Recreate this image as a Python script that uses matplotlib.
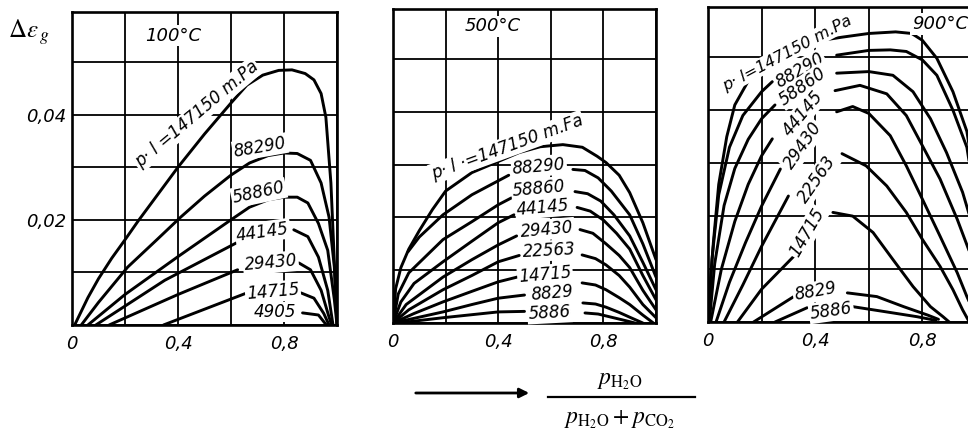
import matplotlib.pyplot as plt
import numpy as np
from matplotlib.patches import FancyArrowPatch
from matplotlib.lines import Line2D

nan = np.nan

# p*l values (m.Pa) of the curves, top to bottom
pl_100 = ['147150', '88290', '58860', '44145', '29430', '14715', '4905']
pl_500 = ['147150', '88290', '58860', '44145', '29430', '22563', '14715', '8829', '5886']
pl_900 = ['147150', '88290', '58860', '44145', '29430', '22563', '14715', '8829', '5886']

# 100 C  (nan = gap where the curve label sits)
x_100 = [
    [0.01, 0.06, 0.1, 0.15, 0.2, 0.25, 0.3, 0.4, 0.5, 0.6, 0.66, 0.72, 0.78, 0.83, 0.88, 0.913, 0.94, 0.958, 0.977, 0.99, 1.0],
    [0.035, 0.1, 0.21, 0.32, 0.41, 0.5, 0.6, 0.67, 0.74, 0.8, 0.85, 0.9, 0.94, 0.97, 0.99, 1.0],
    [0.06, 0.2, 0.4, 0.6, 0.67, 0.74, 0.8, 0.85, 0.89, 0.93, 0.965, 0.99, 1.0],
    [0.09, 0.35, 0.62, nan, 0.837, 0.89, 0.93, 0.965, 0.985],
    [0.14, 0.4, 0.625, nan, 0.856, 0.9, 0.94, 0.97, 0.98],
    [0.345, 0.66, nan, 0.864, 0.913, 0.95, 0.97],
    [0.87, 0.93, 0.96],
]
y_100 = [
    [0, 0.0052, 0.0088, 0.0127, 0.0162, 0.0198, 0.0232, 0.030, 0.0363, 0.0422, 0.0456, 0.0475, 0.0484, 0.0485, 0.0478, 0.0466, 0.0440, 0.0395, 0.027, 0.012, 0],
    [0, 0.0043, 0.011, 0.0162, 0.0205, 0.0245, 0.0285, 0.0308, 0.0322, 0.0327, 0.0326, 0.0313, 0.027, 0.0205, 0.011, 0],
    [0, 0.0058, 0.013, 0.020, 0.0224, 0.0238, 0.0243, 0.0243, 0.0232, 0.0193, 0.0142, 0.0048, 0],
    [0, 0.0085, 0.0156, nan, 0.0181, 0.0168, 0.0129, 0.0066, 0],
    [0, 0.0058, 0.0105, nan, 0.0118, 0.0105, 0.0066, 0.0015, 0],
    [0, 0.0061, nan, 0.0061, 0.0051, 0.0022, 0],
    [0.0023, 0.0019, 0],
]

# 500 C
x_500 = [
    [0, 0.01, 0.03, 0.06, 0.1, 0.15, 0.2, 0.3, 0.4, 0.48, 0.56, 0.646, 0.72, 0.776, 0.81, 0.86, 0.9, 0.95, 1.0],
    [0.057, 0.1, 0.19, 0.3, 0.44, nan, 0.684, 0.73, 0.78, 0.83, 0.9, 0.95, 1.0],
    [0, 0.02, 0.06, 0.19, 0.3, 0.4, 0.45, nan, 0.692, 0.74, 0.79, 0.84, 0.9, 0.95, 1.0],
    [0, 0.03, 0.08, 0.19, 0.3, 0.4, 0.46, nan, 0.70, 0.75, 0.8, 0.85, 0.9, 0.95, 1.0],
    [0, 0.05, 0.19, 0.3, 0.4, 0.47, nan, 0.711, 0.76, 0.81, 0.86, 0.9, 0.95, 1.0],
    [0, 0.06, 0.19, 0.3, 0.4, 0.48, nan, 0.719, 0.77, 0.81, 0.86, 0.9, 0.95, 1.0],
    [0, 0.08, 0.19, 0.3, 0.4, 0.48, nan, 0.719, 0.77, 0.81, 0.86, 0.9, 0.95, 0.99],
    [0, 0.19, 0.3, 0.4, 0.5, nan, 0.722, 0.77, 0.81, 0.86, 0.9, 0.95],
    [0.02, 0.19, 0.4, 0.5, nan, 0.73, 0.78, 0.83, 0.88, 0.92],
]
y_500 = [
    [0, 0.0065, 0.0105, 0.014, 0.0175, 0.0215, 0.025, 0.0285, 0.0306, 0.0323, 0.0334, 0.0338, 0.0333, 0.0316, 0.0304, 0.028, 0.0247, 0.019, 0.012],
    [0.0135, 0.0163, 0.0205, 0.0243, 0.028, nan, 0.0291, 0.0289, 0.0275, 0.025, 0.0205, 0.015, 0.0087],
    [0, 0.0055, 0.0095, 0.0158, 0.0192, 0.0224, 0.0237, nan, 0.0249, 0.0245, 0.0231, 0.0205, 0.0165, 0.0115, 0.0063],
    [0, 0.004, 0.0075, 0.0116, 0.0155, 0.019, 0.0205, nan, 0.0219, 0.0212, 0.0195, 0.017, 0.014, 0.009, 0.0044],
    [0, 0.0035, 0.0087, 0.012, 0.0148, 0.0165, nan, 0.0177, 0.017, 0.015, 0.0128, 0.0105, 0.0062, 0.0025],
    [0, 0.0025, 0.0063, 0.009, 0.0116, 0.0128, nan, 0.0129, 0.0122, 0.011, 0.009, 0.0068, 0.0035, 0.001],
    [0, 0.0018, 0.004, 0.006, 0.0078, 0.0088, nan, 0.0076, 0.0072, 0.0063, 0.0048, 0.0035, 0.0015, 0],
    [0, 0.0021, 0.0035, 0.0047, 0.0053, nan, 0.0038, 0.0036, 0.003, 0.002, 0.0011, 0],
    [0, 0.001, 0.0021, 0.0022, nan, 0.0019, 0.0017, 0.0011, 0.0005, 0],
]

# 900 C
x_900 = [
    [0, 0.01, 0.02, 0.04, 0.07, 0.1, 0.15, 0.2, 0.3, 0.4, 0.5, 0.6, 0.7, 0.76, 0.8, 0.854, 0.914, 0.966, 1.0],
    [0, 0.015, 0.04, 0.08, 0.13, 0.2, 0.24, nan, 0.48, 0.6, 0.68, 0.74, 0.8, 0.854, 0.914, 0.966, 1.0],
    [0.005, 0.025, 0.06, 0.1, 0.15, 0.2, 0.25, nan, 0.48, 0.6, 0.69, 0.765, 0.83, 0.89, 0.95, 1.0],
    [0.01, 0.05, 0.1, 0.15, 0.2, 0.24, nan, 0.474, 0.567, 0.667, 0.74, 0.8, 0.866, 0.93, 1.0],
    [0.03, 0.08, 0.14, 0.2, 0.27, nan, 0.48, 0.54, 0.6, 0.68, 0.74, 0.8, 0.866, 0.93, 0.966, 1.0],
    [0.06, 0.13, 0.2, 0.3, nan, 0.5, 0.59, 0.667, 0.74, 0.8, 0.866, 0.914, 0.95, 0.975],
    [0.11, 0.2, 0.32, nan, 0.466, 0.54, 0.616, 0.69, 0.765, 0.83, 0.877, 0.9],
    [0.17, 0.32, nan, 0.52, 0.63, 0.73, 0.82, 0.86],
    [0.25, 0.37, nan, 0.54, 0.667, 0.78, 0.85],
]
y_900 = [
    [0, 0.008, 0.015, 0.026, 0.035, 0.041, 0.0455, 0.048, 0.051, 0.053, 0.0538, 0.0545, 0.0548, 0.0545, 0.0532, 0.0498, 0.0435, 0.036, 0.025],
    [0, 0.012, 0.024, 0.033, 0.039, 0.0435, 0.0454, nan, 0.0504, 0.0513, 0.0514, 0.0511, 0.0495, 0.0466, 0.040, 0.033, 0.022],
    [0, 0.011, 0.022, 0.029, 0.0345, 0.0384, 0.041, nan, 0.047, 0.0473, 0.0466, 0.0435, 0.0384, 0.032, 0.0245, 0.016],
    [0, 0.01, 0.019, 0.026, 0.0314, 0.0346, nan, 0.0437, 0.0447, 0.0431, 0.039, 0.0333, 0.027, 0.0194, 0.01],
    [0, 0.0075, 0.015, 0.0219, 0.0289, nan, 0.0397, 0.0407, 0.0394, 0.0352, 0.0295, 0.0232, 0.0162, 0.0093, 0.0048, 0.001],
    [0, 0.007, 0.0143, 0.0238, nan, 0.0318, 0.0295, 0.0257, 0.0207, 0.0156, 0.0105, 0.0061, 0.0023, 0],
    [0, 0.0062, 0.0124, nan, 0.0207, 0.020, 0.0169, 0.0118, 0.0067, 0.0029, 0.001, 0],
    [0, 0.0048, nan, 0.0055, 0.0048, 0.0029, 0.0013, 0.0005],
    [0, 0.0027, nan, 0.0029, 0.0019, 0.001, 0.0003],
]

x_ticklabels = ['0', '', '0,4', '', '0,8', '']
y_ticklabels = ['', '', '0,02', '', '0,04', '']

# label placement (x, y, rotation, size) for each curve
lab_100 = [(0.47, 0.0400, 40, 12), (0.71, 0.0338, 10, 12), (0.705, 0.0251, 12, 12),
           (0.72, 0.0177, 8, 12), (0.75, 0.0118, 5, 12), (0.758, 0.0063, 5, 12),
           (0.765, 0.0025, 0, 12)]
lab_500 = [(0.433, 0.0333, 20, 12), (0.555, 0.0297, 5, 12), (0.555, 0.0255, 5, 12),
           (0.57, 0.0219, 5, 12), (0.585, 0.0177, 5, 12), (0.593, 0.0137, 3, 12),
           (0.578, 0.0091, 5, 12), (0.605, 0.0057, 5, 12), (0.597, 0.0019, 3, 12)]
lab_900 = [(0.295, 0.0508, 28, 11.5), (0.343, 0.0475, 30, 12), (0.354, 0.0445, 35, 12),
           (0.354, 0.0394, 50, 12), (0.354, 0.0333, 55, 12), (0.407, 0.027, 55, 12),
           (0.37, 0.0169, 60, 12), (0.40, 0.0057, 10, 12), (0.46, 0.0021, 8, 12)]

W, H = 968, 437


def box(l, t, r, b):
    return [l / W, 1 - b / H, (r - l) / W, (b - t) / H]


plt.rcParams['font.family'] = 'DejaVu Sans'
plt.rcParams['mathtext.fontset'] = 'stix'

fig = plt.figure(figsize=(W / 100, H / 100), dpi=100)
fig.patch.set_facecolor('white')


def panel(rect, names, xs, ys, labs, first, temp, tpos, ylabels):
    ax = fig.add_axes(rect)
    ax.set_xlim(0, 1)
    ax.set_ylim(0, 0.0595)
    ax.set_xticks(np.arange(0, 1.01, 0.2), x_ticklabels)
    ax.set_yticks(np.arange(0, 0.051, 0.01), ylabels)
    ax.grid(True, color='black', lw=1.3)
    ax.tick_params(length=0, labelsize=13)
    ax.tick_params(axis='x', pad=7)
    ax.tick_params(axis='y', pad=4)
    for t in ax.get_xticklabels() + ax.get_yticklabels():
        t.set_style('italic')
    for s in ax.spines.values():
        s.set_linewidth(1.9)
    for x, y in zip(xs, ys):
        ax.plot(x, y, color='black', lw=2.1, solid_capstyle='round')
    for i, (name, (tx, ty, rot, fs)) in enumerate(zip(names, labs)):
        txt = first.format(name) if i == 0 else name
        ax.text(tx, ty, txt, rotation=rot, ha='center', va='center', fontsize=fs,
                style='italic', rotation_mode='anchor', zorder=5,
                bbox=dict(boxstyle='square,pad=0.08', fc='white', ec='none'))
    ax.text(tpos[0], tpos[1], temp, ha='center', va='center', fontsize=13, style='italic',
            zorder=5, bbox=dict(boxstyle='square,pad=0.1', fc='white', ec='none'))
    return ax


panel(box(72, 12, 337, 325), pl_100, x_100, y_100, lab_100, 'p· l ={} m.Pa',
      '100°C', (0.383, 0.055), y_ticklabels)
panel(box(393, 9, 656, 323), pl_500, x_500, y_500, lab_500, 'p· l ·={} m.Fa',
      '500°C', (0.38, 0.0562), [''] * 6)
panel(box(708, 7, 976, 322), pl_900, x_900, y_900, lab_900, 'p· l={} m.Pa',
      '900°C', (0.866, 0.0563), [''] * 6)

fig.text(8 / W, 1 - 32 / H, r'$\Delta\varepsilon_{\,g}$', fontsize=18,
         ha='left', va='center')

# x-axis quantity under the panels
fig.add_artist(FancyArrowPatch((413 / W, 1 - 393 / H), (532 / W, 1 - 393 / H),
                               transform=fig.transFigure, arrowstyle='-|>',
                               mutation_scale=14, lw=2, color='black'))
fig.text(620 / W, 1 - 380 / H, r'$p_{\mathrm{H_2O}}$', fontsize=17,
         ha='center', va='center')
fig.add_artist(Line2D([548 / W, 695 / W], [1 - 397 / H, 1 - 397 / H],
                      transform=fig.transFigure, color='black', lw=1.6))
fig.text(620 / W, 1 - 419 / H, r'$p_{\mathrm{H_2O}} + p_{\mathrm{CO_2}}$', fontsize=17,
         ha='center', va='center')

fig.savefig('out.png', dpi=100)
